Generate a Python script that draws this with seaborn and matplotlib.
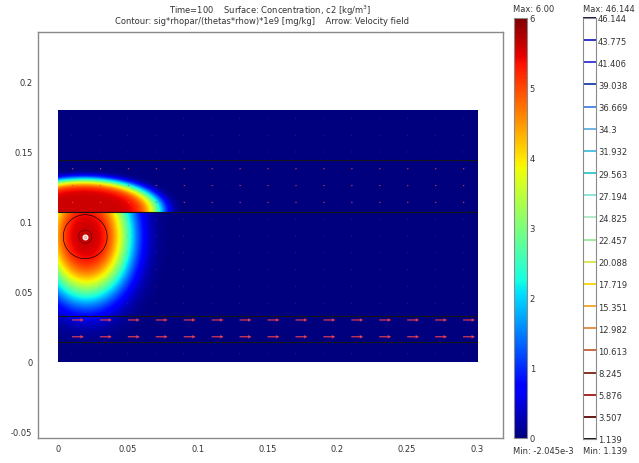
import numpy as np
import matplotlib
matplotlib.use("Agg")
import matplotlib.pyplot as plt
import seaborn as sns
from matplotlib.colors import Normalize

# ---------------- data ----------------
x_ticks = [0, 0.05, 0.1, 0.15, 0.2, 0.25, 0.3]
x_tick_labels = ["0", "0.05", "0.1", "0.15", "0.2", "0.25", "0.3"]
y_ticks = [-0.05, 0, 0.05, 0.1, 0.15, 0.2]
y_tick_labels = ["-0.05", "0", "0.05", "0.1", "0.15", "0.2"]

domain_x = [0.0, 0.3]
domain_y = [0.0, 0.18]
layer_bounds = [0.014, 0.033, 0.107, 0.144]

# plume lobes: centre x, centre y, spread x, spread y, peak, flatness, layer from, layer to
lower_lobe = [0.020, 0.090, 0.026, 0.036, 5.6, 1.5, 0.0, 0.107]
upper_lobe = [0.018, 0.108, 0.050, 0.021, 5.6, 3.5, 0.107, 0.18]

c_min, c_max = -2.045e-3, 6.0
surface_ticks = [0, 1, 2, 3, 4, 5, 6]

# contour quantity (sig*rhopar/(thetas*rhow)*1e9) around the source
source_xy = [0.0195, 0.0895]
contour_peak = 46.144
contour_decay = 0.0002
contour_shape = 0.3
contour_levels = [1.139, 3.507, 5.876, 8.245, 10.613, 12.982, 15.351, 17.719,
                  20.088, 22.457, 24.825, 27.194, 29.563, 31.932, 34.3, 36.669,
                  39.038, 41.406, 43.775, 46.144]
contour_labels = ["1.139", "3.507", "5.876", "8.245", "10.613", "12.982", "15.351",
                  "17.719", "20.088", "22.457", "24.825", "27.194", "29.563",
                  "31.932", "34.3", "36.669", "39.038", "41.406", "43.775", "46.144"]
contour_colors = ["#000000", "#5a0505", "#a01818", "#7a2414", "#c0603a", "#e08a3a",
                  "#f0a428", "#f6d400", "#d8e448", "#9ce89a", "#a8eac4", "#86e2d8",
                  "#30c6c6", "#44bede", "#62aee2", "#4684e2", "#1e3eae", "#3434d2",
                  "#2424c4", "#000044"]

# velocity arrows
arrow_x = [0.01, 0.03, 0.05, 0.07, 0.09, 0.11, 0.13, 0.15, 0.17, 0.19, 0.21, 0.23,
           0.25, 0.27, 0.29]
arrow_y = [0.006, 0.018, 0.030, 0.042, 0.054, 0.066, 0.078, 0.090, 0.102, 0.114,
           0.126, 0.138, 0.150, 0.162, 0.174]
arrow_speed = [0.0004, 0.0085, 0.0085, 0.0004, 0.0004, 0.0004, 0.0004, 0.0004,
               0.0004, 0.0012, 0.0012, 0.0012, 0.0004, 0.0004, 0.0004]

# ---------------- build fields ----------------
xs = np.linspace(domain_x[0], domain_x[1], 601)
ys = np.linspace(domain_y[0], domain_y[1], 361)
X, Y = np.meshgrid(xs, ys)


def lobe(p):
    x0, y0, sx, sy, amp, pw, ya, yb = p
    q = ((X - x0) / sx) ** 2 + ((Y - y0) / sy) ** 2
    val = amp * np.exp(-0.5 * q ** pw)
    return np.where((Y >= ya) & (Y < yb + 1e-9), val, 0.0)


C = lobe(lower_lobe) + lobe(upper_lobe)
R = np.hypot(X - source_xy[0], Y - source_xy[1])
D = contour_peak * np.exp(-(R / contour_decay) ** contour_shape)

AX, AY = np.meshgrid(arrow_x, arrow_y)
U = np.repeat(np.array(arrow_speed)[:, None], len(arrow_x), axis=1)
V = np.zeros_like(U)

# ---------------- figure ----------------
sns.set_theme(style="white")
plt.rcParams["font.family"] = ["DejaVu Sans"]
text_col = "#333333"

fig = plt.figure(figsize=(6.39, 4.64), dpi=100)
ax = fig.add_axes([38 / 639, 1 - 439 / 464, 465 / 639, 406 / 464])

norm = Normalize(vmin=c_min, vmax=c_max)
im = ax.imshow(C, origin="lower", extent=[domain_x[0], domain_x[1], domain_y[0], domain_y[1]],
               cmap="jet", norm=norm, aspect="auto", interpolation="bilinear")
ax.contour(X, Y, D, levels=contour_levels, colors=contour_colors, linewidths=0.45)
ax.hlines(layer_bounds, domain_x[0], domain_x[1], colors="#151515", linewidth=0.8)
ax.quiver(AX, AY, U, V, color="#f04050", angles="xy", scale_units="xy", scale=1,
          width=0.0024, headwidth=3.2, headlength=3.2, headaxislength=2.8, minlength=0.6)
sns.scatterplot(x=[source_xy[0]], y=[source_xy[1]], ax=ax, s=12, marker="o",
                color="#f4b8b0", edgecolor="#ffffff", linewidth=0.8, legend=False, zorder=5)

ax.set_xlim(-0.0143, 0.3186)
ax.set_ylim(-0.0543, 0.2357)
ax.set_xticks(x_ticks)
ax.set_xticklabels(x_tick_labels)
ax.set_yticks(y_ticks)
ax.set_yticklabels(y_tick_labels)
ax.tick_params(axis="both", length=0, labelsize=6, colors=text_col, pad=4)
for s in ax.spines.values():
    s.set_color("#8a8a8a")
    s.set_linewidth(1.0)
    s.set_visible(True)

fig.text(270 / 639, 1 - 11 / 464, "Time=100    Surface: Concentration, c2 [kg/m$^{3}$]",
         ha="center", va="center", fontsize=6, color=text_col)
fig.text(262 / 639, 1 - 22 / 464,
         "Contour: sig*rhopar/(thetas*rhow)*1e9 [mg/kg]    Arrow: Velocity field",
         ha="center", va="center", fontsize=6, color=text_col)

# surface colorbar
cax1 = fig.add_axes([514 / 639, 1 - 439 / 464, 13 / 639, 420 / 464])
cb1 = fig.colorbar(im, cax=cax1, ticks=surface_ticks)
cb1.ax.set_yticklabels([str(t) for t in surface_ticks])
cb1.ax.tick_params(labelsize=6, colors=text_col, length=3, direction="in", pad=2, width=0.6)
cb1.outline.set_edgecolor("#8a8a8a")
cb1.outline.set_linewidth(0.8)
fig.text(513 / 639, 1 - 9 / 464, "Max: 6.00", ha="left", va="center", fontsize=6, color=text_col)
fig.text(513 / 639, 1 - 452 / 464, "Min: -2.045e-3", ha="left", va="center", fontsize=6, color=text_col)

# contour legend bar
cax2 = fig.add_axes([583 / 639, 1 - 440 / 464, 13 / 639, 421 / 464])
cax2.set_facecolor("white")
cax2.hlines(contour_levels, 0, 1, colors=contour_colors, linewidth=1.3, clip_on=False)
cax2.set_xlim(0, 1)
cax2.set_ylim(contour_levels[0], contour_levels[-1])
cax2.set_xticks([])
cax2.yaxis.tick_right()
cax2.set_yticks(contour_levels)
cax2.set_yticklabels(contour_labels)
cax2.tick_params(axis="y", length=0, labelsize=6, colors=text_col, pad=1.5)
for s in cax2.spines.values():
    s.set_color("#8a8a8a")
    s.set_linewidth(0.8)
    s.set_visible(True)
fig.text(583 / 639, 1 - 9 / 464, "Max: 46.144", ha="left", va="center", fontsize=6, color=text_col)
fig.text(583 / 639, 1 - 452 / 464, "Min: 1.139", ha="left", va="center", fontsize=6, color=text_col)

fig.savefig("out.png", dpi=100, facecolor="white")
